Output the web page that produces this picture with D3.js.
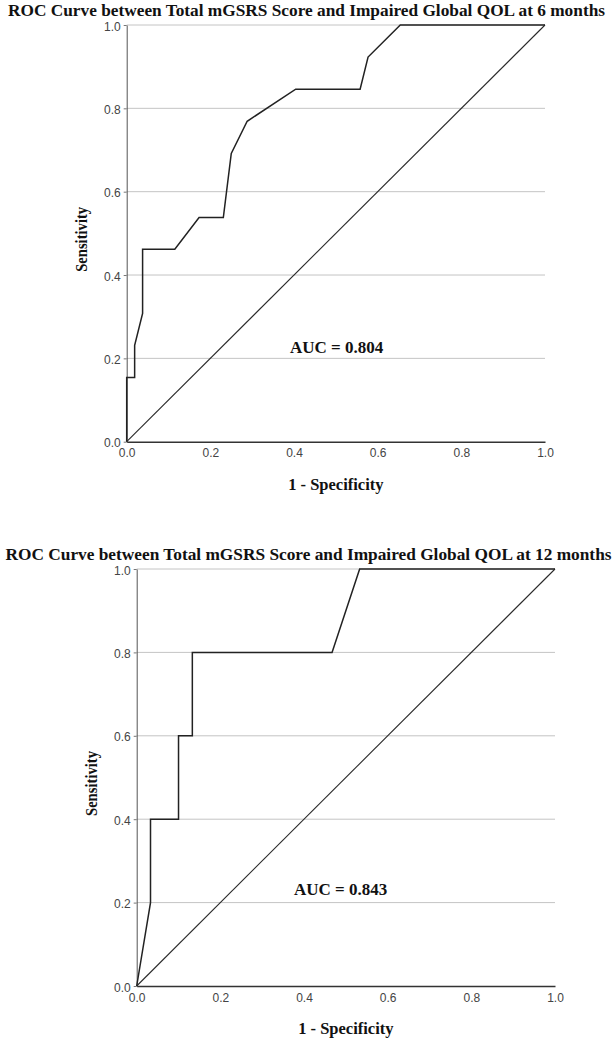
<!DOCTYPE html>
<html>
<head>
<meta charset="utf-8">
<script src="https://cdn.jsdelivr.net/npm/d3@7"></script>
<style>
  body { margin: 0; background: #fff; }
  svg { display: block; }
</style>
</head>
<body>
<svg id="chart" width="615" height="1041"></svg>
<script>
// ---- Data ----
const titles = [
  "ROC Curve between Total mGSRS Score and Impaired Global QOL at 6 months",
  "ROC Curve between Total mGSRS Score and Impaired Global QOL at 12 months"
];
const aucValues = ["0.804", "0.843"];
const tickValues = [0.0, 0.2, 0.4, 0.6, 0.8, 1.0];
const xAxisLabel = "1 - Specificity";
const yAxisLabel = "Sensitivity";

// 6 months ROC curve: 1 - specificity, sensitivity
const roc6FPR  = [0, 0, 0.019, 0.019, 0.038, 0.038, 0.115, 0.173, 0.231, 0.250, 0.288, 0.404, 0.558, 0.577, 0.654, 1.0];
const roc6TPR  = [0, 0.154, 0.154, 0.231, 0.308, 0.462, 0.462, 0.538, 0.538, 0.692, 0.769, 0.846, 0.846, 0.923, 1.0, 1.0];
// 12 months ROC curve
const roc12FPR = [0, 0.033, 0.033, 0.100, 0.100, 0.133, 0.133, 0.467, 0.533, 1.0];
const roc12TPR = [0, 0.2, 0.4, 0.4, 0.6, 0.6, 0.8, 0.8, 1.0, 1.0];
// reference line
const refLine = [0, 1];

const svg = d3.select("#chart");
const serif = "'Liberation Serif','Times New Roman',serif";
const sans = "'Liberation Sans',Arial,sans-serif";

const panels = [
  { title: titles[0], fpr: roc6FPR, tpr: roc6TPR, auc: aucValues[0],
    left: 126.7, right: 545, top: 25, bottom: 441.7, titleY: 16, titleW: 597, titleCx: 306.5,
    aucX: 290, aucY: 353 },
  { title: titles[1], fpr: roc12FPR, tpr: roc12TPR, auc: aucValues[1],
    left: 136.7, right: 555, top: 569, bottom: 986, titleY: 560, titleW: 606, titleCx: 308.5,
    aucX: 294, aucY: 895 }
];

panels.forEach(p => {
  const x = d3.scaleLinear().domain([0, 1]).range([p.left, p.right]);
  const y = d3.scaleLinear().domain([0, 1]).range([p.bottom, p.top]);
  const g = svg.append("g");

  // title
  const t = g.append("text")
    .attr("x", p.titleCx).attr("y", p.titleY)
    .attr("text-anchor", "middle")
    .attr("font-family", serif).attr("font-weight", "bold")
    .attr("font-size", 16.5).attr("fill", "#111")
    .text(p.title);
  const tl = t.node().getComputedTextLength();
  if (Math.abs(tl - p.titleW) > 2) {
    t.attr("textLength", p.titleW).attr("lengthAdjust", "spacingAndGlyphs");
  }

  // gridlines
  g.append("g").selectAll("line")
    .data(tickValues.filter(v => v > 0))
    .join("line")
    .attr("x1", x(0)).attr("x2", x(1))
    .attr("y1", d => y(d)).attr("y2", d => y(d))
    .attr("stroke", "#c4c4c4").attr("stroke-width", 1);

  // y axis
  const yAxis = d3.axisLeft(y).tickValues(tickValues).tickFormat(d3.format(".1f"))
    .tickSizeInner(3).tickSizeOuter(0).tickPadding(3);
  const ya = g.append("g").attr("transform", `translate(${x(0)},0)`).call(yAxis);
  ya.select(".domain").attr("stroke", "#555");
  ya.selectAll(".tick line").attr("stroke", "#777");
  ya.selectAll(".tick text").attr("font-family", sans).attr("font-size", 12)
    .attr("fill", "#444").attr("dy", "0.42em");

  // x axis
  const xAxis = d3.axisBottom(x).tickValues(tickValues).tickFormat(d3.format(".1f"))
    .tickSize(0).tickPadding(7);
  const xa = g.append("g").attr("transform", `translate(0,${y(0)})`).call(xAxis);
  xa.select(".domain").attr("stroke", "#333").attr("stroke-width", 1.6);
  xa.selectAll(".tick text").attr("font-family", sans).attr("font-size", 12)
    .attr("fill", "#444");

  // reference diagonal
  g.append("line")
    .attr("x1", x(refLine[0])).attr("y1", y(refLine[0]))
    .attr("x2", x(refLine[1])).attr("y2", y(refLine[1]))
    .attr("stroke", "#2a2a2a").attr("stroke-width", 1.1);

  // ROC curve
  const pts = p.fpr.map((v, i) => [v, p.tpr[i]]);
  g.append("path")
    .datum(pts)
    .attr("fill", "none")
    .attr("stroke", "#222").attr("stroke-width", 1.5)
    .attr("stroke-linejoin", "miter")
    .attr("d", d3.line().x(d => x(d[0])).y(d => y(d[1])));

  // AUC annotation
  const at = g.append("text")
    .attr("x", p.aucX).attr("y", p.aucY)
    .attr("font-family", serif).attr("font-size", 17).attr("fill", "#111")
    .attr("font-weight", "bold");
  at.append("tspan").text("AUC = ");
  at.append("tspan").text(p.auc);

  // axis labels
  g.append("text")
    .attr("x", (x(0) + x(1)) / 2).attr("y", y(0) + 48)
    .attr("text-anchor", "middle")
    .attr("font-family", serif).attr("font-weight", "bold")
    .attr("font-size", 16.5).attr("fill", "#111")
    .text(xAxisLabel);

  const cy = (y(0) + y(1)) / 2 + 6;
  const cx = x(0) - 40;
  g.append("text")
    .attr("transform", `translate(${cx},${cy}) rotate(-90)`)
    .attr("text-anchor", "middle")
    .attr("font-family", serif).attr("font-weight", "bold")
    .attr("font-size", 16).attr("fill", "#111")
    .attr("textLength", 65).attr("lengthAdjust", "spacingAndGlyphs")
    .text(yAxisLabel);
});
</script>
</body>
</html>
